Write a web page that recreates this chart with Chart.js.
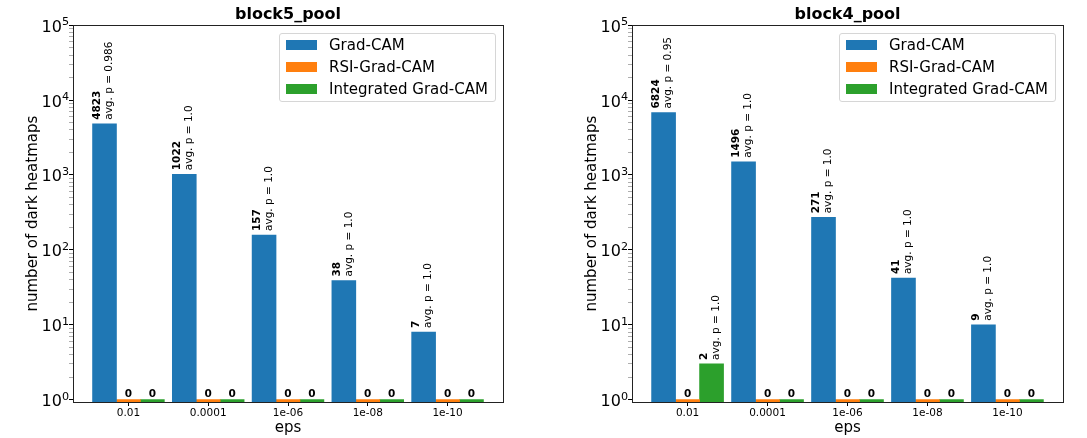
<!DOCTYPE html>
<html>
<head>
<meta charset="utf-8">
<script src="https://cdn.jsdelivr.net/npm/chart.js@4.4.0/dist/chart.umd.min.js"></script>
<style>
    body { margin: 0; background: #fff; }
    #wrap { position: relative; width: 1087px; height: 438px; font-family: "DejaVu Sans", sans-serif; }
    .panel { position: absolute; top: 0; height: 438px; }
    .legend {
        position: absolute; top: 33px; width: 217px; height: 69px; box-sizing: border-box;
        border: 1px solid #d6d6d6; border-radius: 3px; background: rgba(255,255,255,0.8);
    }
    .legend .row { display: flex; align-items: center; height: 22px; }
    .legend .sw { width: 31px; height: 10px; margin-left: 6px; }
    .legend .txt { margin-left: 12px; font-size: 15px; color: #000; white-space: nowrap; }
</style>
</head>
<body>
<div id="wrap">
    <div class="panel" style="left:0;width:543px">
        <canvas id="chart5" width="543" height="438"></canvas>
        <div class="legend" id="legend5" style="left:279px"></div>
    </div>
    <div class="panel" style="left:543px;width:544px">
        <canvas id="chart4" width="544" height="438"></canvas>
        <div class="legend" id="legend4" style="left:296px"></div>
    </div>
</div>
<script>
const epsLabels = ['0.01', '0.0001', '1e-06', '1e-08', '1e-10'];
const methodNames = ['Grad-CAM', 'RSI-Grad-CAM', 'Integrated Grad-CAM'];
const methodColors = ['#1f77b4', '#ff7f0e', '#2ca02c'];
const barOffsets = [-0.3, 0, 0.3];

// block5_pool
const block5GradCam = [4823, 1022, 157, 38, 7];
const block5Rsi = [0, 0, 0, 0, 0];
const block5Integrated = [0, 0, 0, 0, 0];
const block5GradCamP = [0.986, 1.0, 1.0, 1.0, 1.0];
const block5RsiP = [null, null, null, null, null];
const block5IntegratedP = [null, null, null, null, null];

// block4_pool
const block4GradCam = [6824, 1496, 271, 41, 9];
const block4Rsi = [0, 0, 0, 0, 0];
const block4Integrated = [2, 0, 0, 0, 0];
const block4GradCamP = [0.95, 1.0, 1.0, 1.0, 1.0];
const block4RsiP = [null, null, null, null, null];
const block4IntegratedP = [1.0, null, null, null, null];

const yPowers = [0, 1, 2, 3, 4, 5];

function fmtP(p) {
    return Number.isInteger(p) ? p.toFixed(1) : String(p);
}

// texte au-dessus des barres
const barLabels = {
    id: 'barLabels',
    afterDatasetsDraw(chart) {
        const ctx = chart.ctx;
        chart.data.datasets.forEach((ds, k) => {
            const meta = chart.getDatasetMeta(k);
            meta.data.forEach((bar, i) => {
                const n = ds.counts[i];
                ctx.save();
                ctx.fillStyle = '#000';
                if (n === 0) {
                    ctx.font = 'bold 10.5px "DejaVu Sans"';
                    ctx.textAlign = 'center';
                    ctx.textBaseline = 'alphabetic';
                    ctx.fillText('0', bar.x, bar.y - 3);
                } else {
                    ctx.translate(bar.x, bar.y - 4);
                    ctx.rotate(-Math.PI / 2);
                    ctx.textAlign = 'left';
                    ctx.textBaseline = 'middle';
                    ctx.font = 'bold 10.5px "DejaVu Sans"';
                    ctx.fillText(String(n), 0, -7);
                    ctx.font = '10.5px "DejaVu Sans"';
                    ctx.fillText('avg. p = ' + fmtP(ds.pvals[i]), 0, 5);
                }
                ctx.restore();
            });
        });
    }
};

// cadre + étiquettes 10^n de l'axe y
const frame = {
    id: 'frame',
    afterDatasetsDraw(chart) {
        const a = chart.chartArea;
        const ctx = chart.ctx;
        ctx.save();
        ctx.strokeStyle = '#222';
        ctx.lineWidth = 1;
        ctx.strokeRect(Math.round(a.left) + 0.5, Math.round(a.top) + 0.5,
            Math.round(a.right - a.left), Math.round(a.bottom - a.top));
        ctx.restore();
    },
    afterDraw(chart) {
        const y = chart.scales.y;
        const ctx = chart.ctx;
        const xr = chart.chartArea.left - 4;
        ctx.save();
        ctx.fillStyle = '#000';
        ctx.textAlign = 'right';
        ctx.textBaseline = 'alphabetic';
        yPowers.forEach(p => {
            const py = y.getPixelForValue(Math.pow(10, p));
            ctx.font = '11.2px "DejaVu Sans"';
            const w = ctx.measureText(String(p)).width;
            ctx.fillText(String(p), xr, py);
            ctx.font = '16px "DejaVu Sans"';
            ctx.fillText('10', xr - w, py + 6.5);
        });
        ctx.restore();
    }
};

function logTicks() {
    const ticks = [];
    yPowers.forEach(p => {
        if (p === yPowers[yPowers.length - 1]) {
            ticks.push({ value: Math.pow(10, p), major: true });
            return;
        }
        for (let m = 1; m < 10; m++) {
            ticks.push({ value: m * Math.pow(10, p), major: m === 1 });
        }
    });
    return ticks;
}

function construireGraphique(canvasId, titre, series, pvals, padLeft, padRight) {
    const datasets = series.map((counts, k) => ({
        label: methodNames[k],
        // échelle log : on trace count + 1
        data: counts.map((c, i) => ({ x: i + barOffsets[k], y: c + 1 })),
        counts: counts,
        pvals: pvals[k],
        backgroundColor: methodColors[k],
        borderWidth: 0,
        grouped: false,
        barPercentage: 1,
        categoryPercentage: 1
    }));

    new Chart(document.getElementById(canvasId), {
        type: 'bar',
        data: { datasets: datasets },
        plugins: [barLabels, frame],
        options: {
            responsive: false,
            animation: false,
            devicePixelRatio: 1,
            layout: { padding: { left: padLeft, right: padRight, top: 0, bottom: 0 } },
            plugins: {
                legend: { display: false },
                tooltip: { enabled: false },
                title: {
                    display: true,
                    fullSize: false,
                    text: titre,
                    color: '#000',
                    font: { family: 'DejaVu Sans', size: 16, weight: 'bold' },
                    padding: { top: 5, bottom: 1 }
                }
            },
            scales: {
                x: {
                    type: 'linear',
                    offset: false,
                    min: -0.695,
                    max: 4.695,
                    afterBuildTicks: scale => {
                        scale.ticks = epsLabels.map((_, i) => ({ value: i }));
                    },
                    afterFit: scale => { scale.height = 36; },
                    ticks: {
                        autoSkip: false,
                        maxRotation: 0,
                        padding: 1,
                        color: '#000',
                        font: { family: 'DejaVu Sans', size: 10.5 },
                        callback: v => epsLabels[v]
                    },
                    grid: { offset: false, drawOnChartArea: false, drawTicks: true, tickLength: 4, color: '#000' },
                    border: { display: false },
                    title: {
                        display: true,
                        text: 'eps',
                        color: '#000',
                        font: { family: 'DejaVu Sans', size: 15 },
                        padding: { top: 0, bottom: 1 }
                    }
                },
                y: {
                    type: 'logarithmic',
                    min: 0.93,
                    max: 1e5,
                    afterBuildTicks: scale => { scale.ticks = logTicks(); },
                    afterFit: scale => { scale.width = 73; },
                    ticks: { display: false, autoSkip: false },
                    grid: {
                        drawOnChartArea: false,
                        drawTicks: true,
                        tickLength: 4,
                        tickColor: c => (c.tick && c.tick.major) ? '#000' : '#777',
                        tickWidth: c => (c.tick && c.tick.major) ? 1 : 0.6
                    },
                    border: { display: false },
                    title: {
                        display: true,
                        text: 'number of dark heatmaps',
                        color: '#000',
                        font: { family: 'DejaVu Sans', size: 15 },
                        padding: { top: 24, bottom: 0 }
                    }
                }
            }
        }
    });
}

function construireLegende(id) {
    const box = document.getElementById(id);
    methodNames.forEach((nom, k) => {
        const row = document.createElement('div');
        row.className = 'row';
        row.innerHTML = '<span class="sw" style="background:' + methodColors[k] + '"></span>' +
            '<span class="txt">' + nom + '</span>';
        box.appendChild(row);
    });
}

construireGraphique('chart5', 'block5_pool',
    [block5GradCam, block5Rsi, block5Integrated],
    [block5GradCamP, block5RsiP, block5IntegratedP], 0, 40);
construireGraphique('chart4', 'block4_pool',
    [block4GradCam, block4Rsi, block4Integrated],
    [block4GradCamP, block4RsiP, block4IntegratedP], 16, 24);
construireLegende('legend5');
construireLegende('legend4');
</script>
</body>
</html>
